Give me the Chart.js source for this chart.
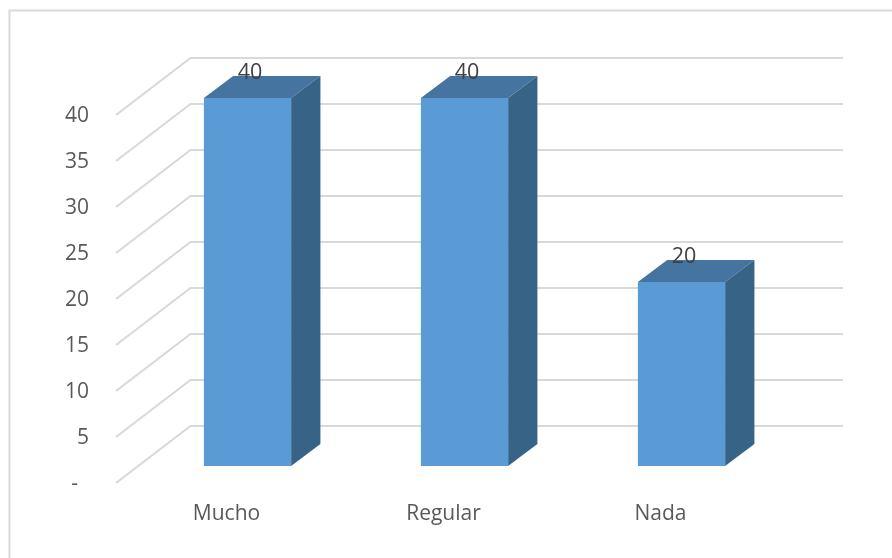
<!DOCTYPE html>
<html>
<head>
<meta charset="utf-8">
<style>html,body{margin:0;padding:0;background:#fff}#w{width:892px;height:558px;position:relative}</style>
<script src="https://cdn.jsdelivr.net/npm/chart.js@4/dist/chart.umd.min.js"></script>
</head>
<body>
<div id="w"><canvas id="c" width="892" height="558"></canvas></div>
<script>
const categories = ["Mucho", "Regular", "Nada"];
const seriesValues = [40, 40, 20];
const tickStep = 5;
const axisMax = 40;
const zeroLabel = "-  ";

const FONT = '"Open Sans", sans-serif';
const WALL = { dx: 74.5, dy: -57 };      // floor depth of the plot box
const BAR_OFFSET = { dx: 21, dy: -17 };  // where the bars stand on the floor
const BAR_DEPTH = { dx: 29.3, dy: -22 };
const LINE = "#D9D9D9";

const frame = {
  id: "frame",
  beforeDraw(chart) {
    const c = chart.ctx;
    c.save();
    c.strokeStyle = LINE;
    c.lineWidth = 2;
    c.beginPath();
    c.moveTo(9.5, 558);
    c.lineTo(9.5, 10.5);
    c.lineTo(892, 10.5);
    c.stroke();
    c.restore();
  }
};

const wall = {
  id: "wall",
  beforeDatasetsDraw(chart) {
    const c = chart.ctx, y = chart.scales.y, left = chart.chartArea.left - 2;
    c.save();
    c.strokeStyle = LINE;
    c.lineWidth = 2.2;
    c.lineJoin = "miter";
    y.ticks.forEach(t => {
      const p = y.getPixelForValue(t.value);
      c.beginPath();
      c.moveTo(left, p);
      c.lineTo(left + WALL.dx, p + WALL.dy);
      c.lineTo(843, p + WALL.dy);
      c.stroke();
    });
    c.restore();
  }
};

const bars3d = {
  id: "bars3d",
  beforeDatasetDraw(chart, args) {
    const c = chart.ctx;
    const meta = chart.getDatasetMeta(args.index);
    c.save();
    c.translate(BAR_OFFSET.dx, BAR_OFFSET.dy);
    meta.data.forEach(b => {
      const l = b.x - b.width / 2, r = b.x + b.width / 2, t = b.y, u = b.base;
      c.fillStyle = "#44749F";
      c.beginPath();
      c.moveTo(l, t);
      c.lineTo(l + BAR_DEPTH.dx, t + BAR_DEPTH.dy);
      c.lineTo(r + BAR_DEPTH.dx, t + BAR_DEPTH.dy);
      c.lineTo(r, t);
      c.closePath();
      c.fill();
      c.fillStyle = "#376387";
      c.beginPath();
      c.moveTo(r, t);
      c.lineTo(r + BAR_DEPTH.dx, t + BAR_DEPTH.dy);
      c.lineTo(r + BAR_DEPTH.dx, u + BAR_DEPTH.dy);
      c.lineTo(r, u);
      c.closePath();
      c.fill();
    });
  },
  afterDatasetDraw(chart, args) {
    const c = chart.ctx;
    c.restore();
    const meta = chart.getDatasetMeta(args.index);
    const vals = chart.data.datasets[args.index].data;
    c.save();
    c.fillStyle = "#404040";
    c.font = "21.5px " + FONT;
    c.textAlign = "center";
    c.textBaseline = "middle";
    meta.data.forEach((b, i) => {
      c.fillText(String(vals[i]), b.x + BAR_OFFSET.dx + 2.5, b.y + BAR_OFFSET.dy - 25);
    });
    c.restore();
  }
};

new Chart(document.getElementById("c"), {
  type: "bar",
  data: {
    labels: categories,
    datasets: [{
      data: seriesValues,
      backgroundColor: "#5B9BD5",
      borderWidth: 0,
      barPercentage: 0.402,
      categoryPercentage: 1
    }]
  },
  plugins: [frame, wall, bars3d],
  options: {
    responsive: false,
    animation: false,
    events: [],
    layout: { padding: { left: 0, top: 115, right: 123, bottom: 0 } },
    plugins: { legend: { display: false }, tooltip: { enabled: false }, title: { display: false } },
    scales: {
      x: {
        grid: { display: false },
        border: { display: false },
        afterFit(s) { s.height = 75; },
        ticks: {
          color: "#595959",
          font: { family: FONT, size: 21 },
          padding: 10,
          maxRotation: 0
        }
      },
      y: {
        min: 0,
        max: axisMax,
        grid: { display: false },
        border: { display: false },
        afterFit(s) { s.width = 118; },
        ticks: {
          stepSize: tickStep,
          color: "#595959",
          font: { family: FONT, size: 21 },
          padding: 21,
          labelOffset: 1.5,
          callback: v => (v === 0 ? zeroLabel : String(v))
        }
      }
    }
  }
});
</script>
</body>
</html>
